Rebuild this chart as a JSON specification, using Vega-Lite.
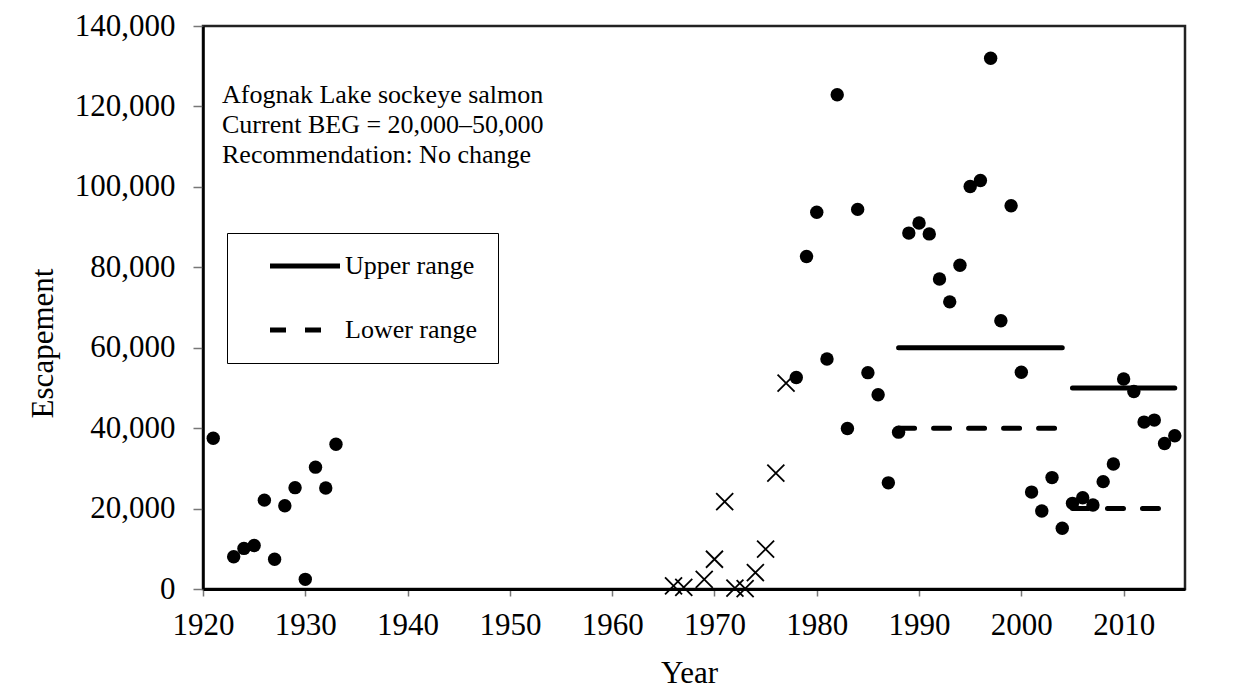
{
  "$schema": "https://vega.github.io/schema/vega-lite/v6.json",
  "width": 982,
  "height": 563,
  "autosize": {"type": "none"},
  "padding": {"left": 203, "top": 26, "right": 68, "bottom": 101},
  "background": "white",
  "title": {
    "text": ["Afognak Lake sockeye salmon", "Current BEG = 20,000\u201350,000", "Recommendation: No change"],
    "orient": "top",
    "anchor": "start",
    "frame": "group",
    "offset": -179,
    "dx": 19,
    "baseline": "alphabetic",
    "font": "Liberation Serif",
    "fontSize": 26,
    "fontWeight": "normal",
    "lineHeight": 30,
    "color": "#000000"
  },
  "datasets": {
    "escapement": [
      {"year": 1921, "count": 37500, "series": "A"},
      {"year": 1923, "count": 8000, "series": "A"},
      {"year": 1924, "count": 10100, "series": "A"},
      {"year": 1925, "count": 10800, "series": "A"},
      {"year": 1926, "count": 22100, "series": "A"},
      {"year": 1927, "count": 7400, "series": "A"},
      {"year": 1928, "count": 20700, "series": "A"},
      {"year": 1929, "count": 25200, "series": "A"},
      {"year": 1930, "count": 2400, "series": "A"},
      {"year": 1931, "count": 30300, "series": "A"},
      {"year": 1932, "count": 25100, "series": "A"},
      {"year": 1933, "count": 36000, "series": "A"},
      {"year": 1966, "count": 800, "series": "B"},
      {"year": 1967, "count": 400, "series": "B"},
      {"year": 1969, "count": 2400, "series": "B"},
      {"year": 1970, "count": 7400, "series": "B"},
      {"year": 1971, "count": 21700, "series": "B"},
      {"year": 1972, "count": 200, "series": "B"},
      {"year": 1973, "count": 100, "series": "B"},
      {"year": 1974, "count": 4100, "series": "B"},
      {"year": 1975, "count": 9900, "series": "B"},
      {"year": 1976, "count": 28800, "series": "B"},
      {"year": 1977, "count": 51200, "series": "B"},
      {"year": 1978, "count": 52600, "series": "A"},
      {"year": 1979, "count": 82700, "series": "A"},
      {"year": 1980, "count": 93700, "series": "A"},
      {"year": 1981, "count": 57200, "series": "A"},
      {"year": 1982, "count": 122900, "series": "A"},
      {"year": 1983, "count": 39900, "series": "A"},
      {"year": 1984, "count": 94400, "series": "A"},
      {"year": 1985, "count": 53800, "series": "A"},
      {"year": 1986, "count": 48300, "series": "A"},
      {"year": 1987, "count": 26400, "series": "A"},
      {"year": 1988, "count": 39000, "series": "A"},
      {"year": 1989, "count": 88500, "series": "A"},
      {"year": 1990, "count": 91000, "series": "A"},
      {"year": 1991, "count": 88300, "series": "A"},
      {"year": 1992, "count": 77100, "series": "A"},
      {"year": 1993, "count": 71400, "series": "A"},
      {"year": 1994, "count": 80500, "series": "A"},
      {"year": 1995, "count": 100100, "series": "A"},
      {"year": 1996, "count": 101600, "series": "A"},
      {"year": 1997, "count": 132000, "series": "A"},
      {"year": 1998, "count": 66700, "series": "A"},
      {"year": 1999, "count": 95300, "series": "A"},
      {"year": 2000, "count": 53900, "series": "A"},
      {"year": 2001, "count": 24100, "series": "A"},
      {"year": 2002, "count": 19400, "series": "A"},
      {"year": 2003, "count": 27700, "series": "A"},
      {"year": 2004, "count": 15100, "series": "A"},
      {"year": 2005, "count": 21300, "series": "A"},
      {"year": 2006, "count": 22700, "series": "A"},
      {"year": 2007, "count": 20900, "series": "A"},
      {"year": 2008, "count": 26700, "series": "A"},
      {"year": 2009, "count": 31100, "series": "A"},
      {"year": 2010, "count": 52200, "series": "A"},
      {"year": 2011, "count": 49100, "series": "A"},
      {"year": 2012, "count": 41500, "series": "A"},
      {"year": 2013, "count": 42000, "series": "A"},
      {"year": 2014, "count": 36200, "series": "A"},
      {"year": 2015, "count": 38100, "series": "A"}
    ],
    "goal": [
      {"range": "Upper range", "seg": "u1", "year": 1988, "count": 60000},
      {"range": "Upper range", "seg": "u1", "year": 2004, "count": 60000},
      {"range": "Upper range", "seg": "u2", "year": 2005, "count": 50000},
      {"range": "Upper range", "seg": "u2", "year": 2015, "count": 50000},
      {"range": "Lower range", "seg": "l1", "year": 1988, "count": 40000},
      {"range": "Lower range", "seg": "l1", "year": 2004, "count": 40000},
      {"range": "Lower range", "seg": "l2", "year": 2005, "count": 20000},
      {"range": "Lower range", "seg": "l2", "year": 2015, "count": 20000}
    ]
  },
  "encoding": {
    "x": {
      "field": "year",
      "type": "quantitative",
      "title": "Year",
      "scale": {"domain": [1920, 2016], "nice": false, "zero": false},
      "axis": {
        "values": [1920, 1930, 1940, 1950, 1960, 1970, 1980, 1990, 2000, 2010],
        "format": "d",
        "grid": false,
        "tickSize": 7,
        "tickColor": "#777777",
        "tickWidth": 1.5,
        "domainColor": "#000000",
        "domainWidth": 3,
        "labelFlush": false,
        "labelOverlap": false,
        "labelPadding": 14,
        "titleX": 486,
        "titleY": 93,
        "titleBaseline": "alphabetic",
        "titleAlign": "center"
      }
    },
    "y": {
      "field": "count",
      "type": "quantitative",
      "title": "Escapement",
      "scale": {"domain": [0, 140000], "nice": false},
      "axis": {
        "values": [0, 20000, 40000, 60000, 80000, 100000, 120000, 140000],
        "format": ",.0f",
        "grid": false,
        "tickSize": 10,
        "tickColor": "#777777",
        "tickWidth": 1.5,
        "domainColor": "#000000",
        "domainWidth": 2.5,
        "labelPadding": 18,
        "titleX": -151,
        "titleY": 317,
        "titleAngle": -90,
        "titleBaseline": "alphabetic",
        "titleAlign": "center"
      }
    }
  },
  "layer": [
    {
      "mark": {"type": "rule", "color": "#000000", "strokeWidth": 2.5, "clip": false},
      "encoding": {
        "x": {"datum": 1900.82},
        "y": {"datum": 145220},
        "y2": {"datum": -30000}
      }
    },
    {
      "mark": {"type": "rule", "color": "#000000", "strokeWidth": 2.5, "clip": false},
      "encoding": {
        "x": {"datum": 1900.82},
        "x2": {"datum": 2026},
        "y": {"datum": 145220}
      }
    },
    {
      "data": {"name": "goal"},
      "mark": {"type": "line", "color": "#000000", "strokeWidth": 5, "strokeCap": "round"},
      "encoding": {
        "detail": {"field": "seg"},
        "strokeDash": {
          "field": "range",
          "type": "nominal",
          "scale": {"domain": ["Upper range", "Lower range"], "range": [[1, 0], [16, 19]]},
          "legend": {
            "title": null,
            "orient": "none",
            "legendX": 24,
            "legendY": 207,
            "padding": 20,
            "rowPadding": 38,
            "strokeColor": "#000000",
            "symbolType": "M1,0L8,0",
            "symbolSize": 400,
            "symbolStrokeWidth": 5,
            "symbolStrokeColor": "#000000",
            "labelOffset": 72,
            "labelFont": "Liberation Serif",
            "labelFontSize": 26,
            "labelColor": "#000000",
            "labelLimit": 400
          }
        }
      }
    },
    {
      "data": {"name": "escapement"},
      "transform": [{"filter": "datum.series === 'B'"}],
      "mark": {"type": "point", "shape": "M-1,-1L1,1M-1,1L1,-1", "filled": false, "stroke": "#000000", "strokeWidth": 1.8, "size": 289, "opacity": 1}
    },
    {
      "data": {"name": "escapement"},
      "transform": [{"filter": "datum.series === 'A'"}],
      "mark": {"type": "circle", "color": "#000000", "size": 180, "opacity": 1}
    }
  ],
  "config": {
    "view": {"stroke": "#222222", "strokeWidth": 2.5},
    "font": "Liberation Serif",
    "axis": {
      "labelFont": "Liberation Serif",
      "labelFontSize": 31,
      "labelColor": "#000000",
      "titleFont": "Liberation Serif",
      "titleFontSize": 31,
      "titleFontWeight": "normal",
      "titleColor": "#000000"
    }
  }
}
